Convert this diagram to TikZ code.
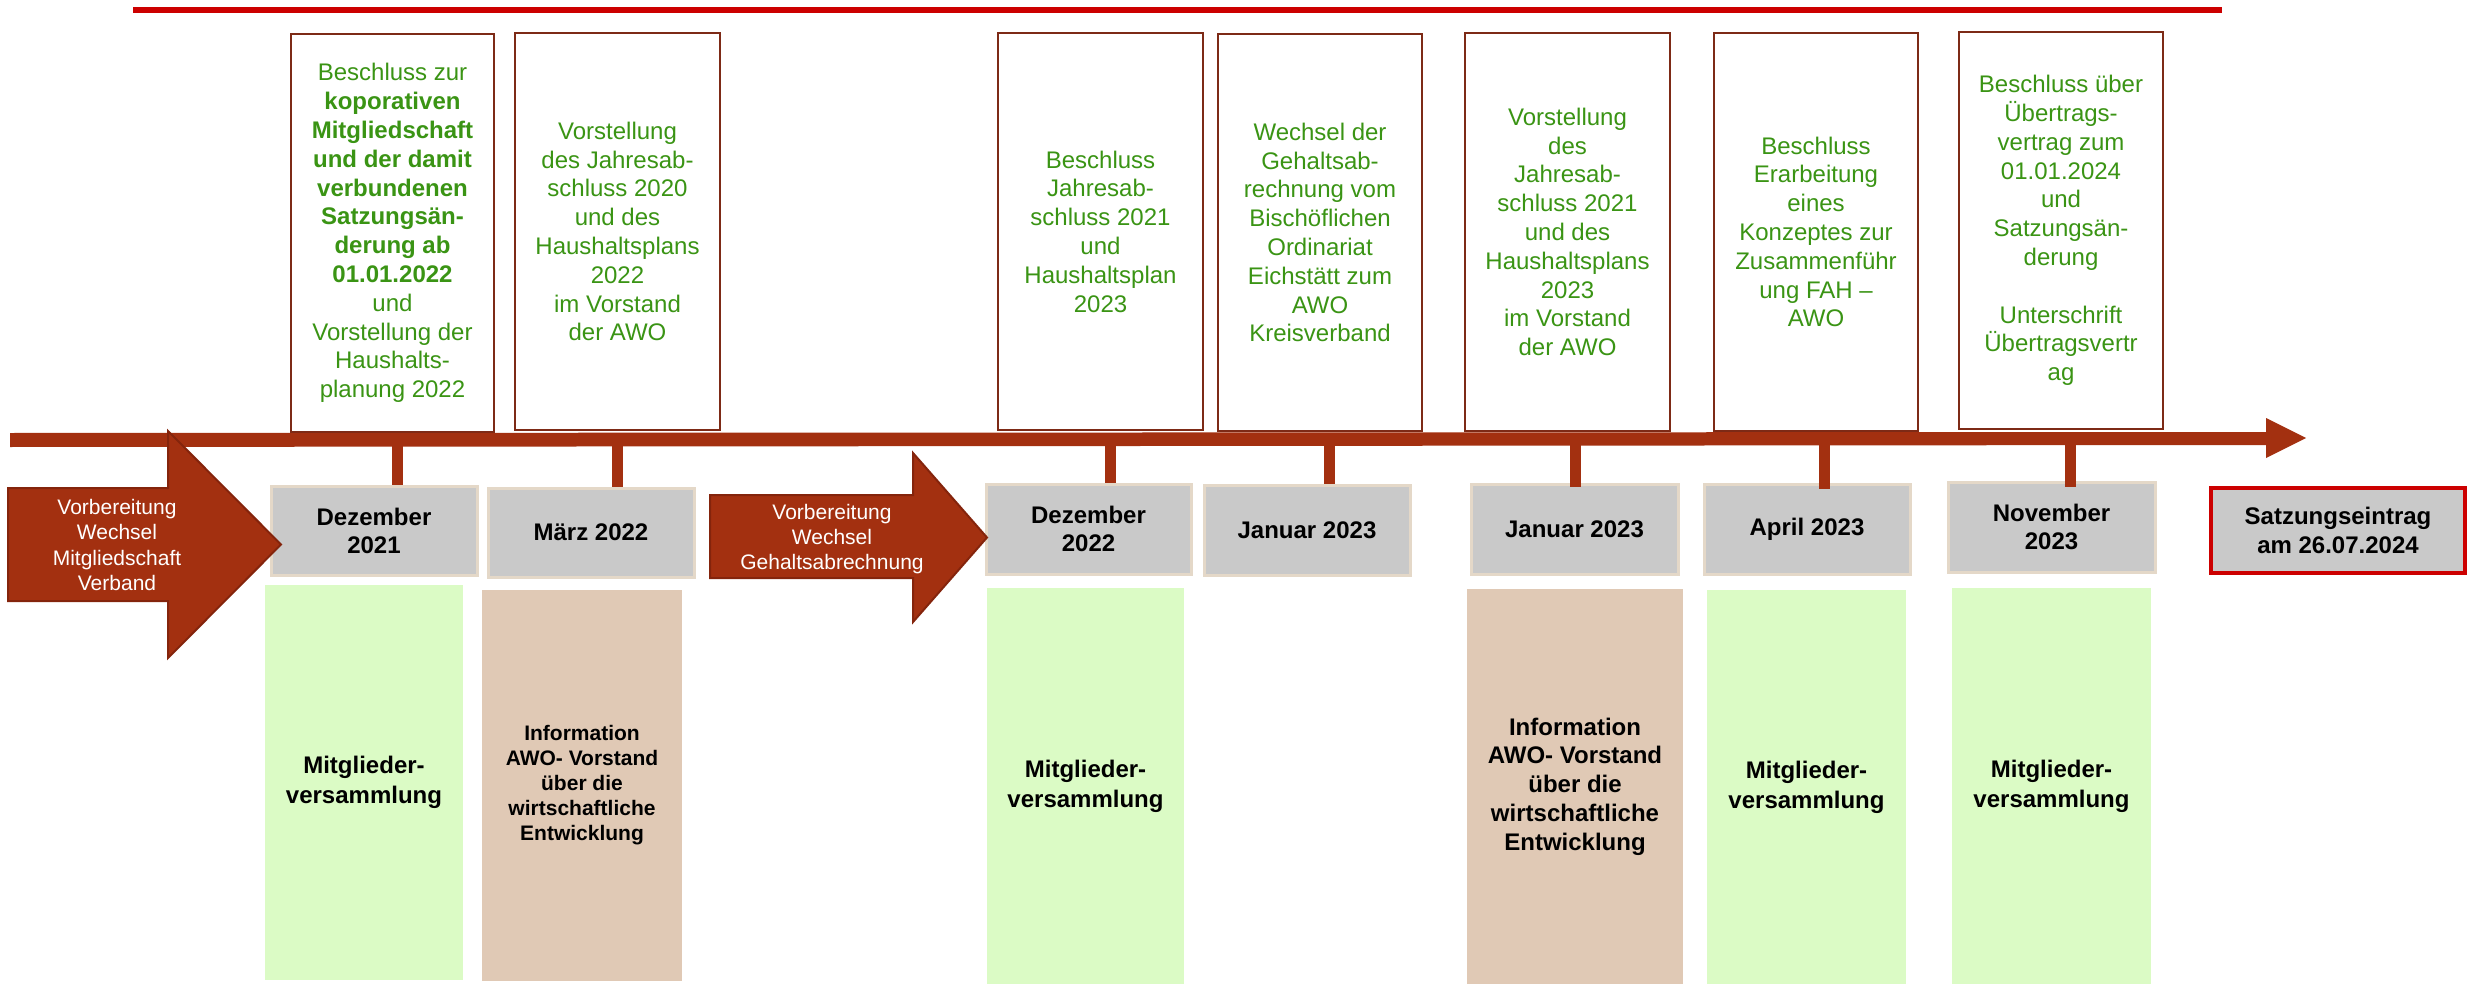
\documentclass[tikz,border=0pt]{standalone}
\usepackage{fontspec}
\setmainfont{Liberation Sans}
\definecolor{arrowred}{RGB}{163,48,16}
\definecolor{arrowedge}{RGB}{132,36,12}
\definecolor{boxedge}{RGB}{125,42,22}
\definecolor{txtgreen}{RGB}{58,148,20}
\definecolor{datefill}{RGB}{201,201,201}
\definecolor{dateedge}{RGB}{228,216,200}
\definecolor{mgreen}{RGB}{219,251,197}
\definecolor{mtan}{RGB}{224,201,181}
\definecolor{topred}{RGB}{204,0,0}
\begin{document}
\begin{tikzpicture}[x=0.5pt,y=-0.5pt,
  topbox/.style={draw=boxedge, line width=1.4pt, fill=white, text=txtgreen, align=center, inner sep=0pt, font=\fontsize{12}{14.4}\selectfont},
  datebox/.style={draw=dateedge, line width=1.5pt, fill=datefill, align=center, inner sep=0pt, font=\bfseries\fontsize{12}{14}\selectfont},
  endbox/.style={draw=topred, line width=2pt, fill=datefill, align=center, inner sep=0pt, font=\bfseries\fontsize{12}{14.75}\selectfont},
  greenbox/.style={fill=mgreen, align=center, inner sep=0pt, font=\bfseries\fontsize{12}{15}\selectfont},
  tanbox/.style={fill=mtan, align=center, inner sep=0pt, font=\bfseries\fontsize{10.5}{12.5}\selectfont},
  bigtan/.style={tanbox, font=\bfseries\fontsize{12}{14.4}\selectfont},
  bigarrow/.style={fill=arrowred, draw=arrowedge, line width=1pt, line join=miter},
  arrowtext/.style={text=white, align=center, inner sep=0pt, font=\fontsize{10.5}{12.6}\selectfont},
  tickline/.style={draw=arrowred, line width=5.5pt},
]
\useasboundingbox (0,0) rectangle (2478,984);

% top red line
\draw[topred, line width=3pt] (133,10) -- (2222,10);

% top boxes
\node[topbox, minimum width=101.5pt, minimum height=199pt] (T1) at (392.5,233)
  {Beschluss zur\\\textbf{koporativen}\\\textbf{Mitgliedschaft}\\\textbf{und der damit}\\\textbf{verbundenen}\\\textbf{Satzungsän-}\\\textbf{derung ab}\\\textbf{01.01.2022}\\und\\Vorstellung der\\Haushalts-\\planung 2022};
\node[topbox, minimum width=102.5pt, minimum height=198.5pt] (T2) at (617.5,231.5)
  {Vorstellung\\des Jahresab-\\schluss 2020\\und des\\Haushaltsplans\\2022\\im Vorstand\\der AWO};
\node[topbox, minimum width=102.5pt, minimum height=198.5pt] (T3) at (1100.5,231.5)
  {Beschluss\\Jahresab-\\schluss 2021\\und\\Haushaltsplan\\2023};
\node[topbox, minimum width=102pt, minimum height=198.5pt] (T4) at (1320,232.5)
  {Wechsel der\\Gehaltsab-\\rechnung vom\\Bischöflichen\\Ordinariat\\Eichstätt zum\\AWO\\Kreisverband};
\node[topbox, minimum width=102.5pt, minimum height=199pt] (T5) at (1567.5,232)
  {Vorstellung\\des\\Jahresab-\\schluss 2021\\und des\\Haushaltsplans\\2023\\im Vorstand\\der AWO};
\node[topbox, minimum width=102pt, minimum height=199pt] (T6) at (1816,232)
  {Beschluss\\Erarbeitung\\eines\\Konzeptes zur\\Zusammenführ\\ung FAH –\\AWO};
\node[topbox, minimum width=102pt, minimum height=198.5pt] (T7) at (2061,230.5)
  {Beschluss über\\Übertrags-\\vertrag zum\\01.01.2024\\und\\Satzungsän-\\derung\\\mbox{}\\Unterschrift\\Übertragsvertr\\ag};

% timeline
\fill[arrowred] (10,433) -- (2266,432) -- (2266,418) -- (2306,438) -- (2266,458) -- (2266,445) -- (10,447) -- cycle;

% date boxes
\node[datebox, minimum width=103pt, minimum height=44.5pt] (G1) at (374,530.5) {Dezember\\2021};
\node[datebox, minimum width=103pt, minimum height=44.5pt] (G2) at (591,532.5) {März 2022};
\node[datebox, minimum width=102.5pt, minimum height=45pt] (G3) at (1088.5,529) {Dezember\\2022};
\node[datebox, minimum width=103pt, minimum height=45pt] (G4) at (1307,530) {Januar 2023};
\node[datebox, minimum width=103.5pt, minimum height=45pt] (G5) at (1574.5,529) {Januar 2023};
\node[datebox, minimum width=103pt, minimum height=45pt] (G6) at (1807,529) {April 2023};
\node[datebox, minimum width=103.5pt, minimum height=45pt] (G7) at (2051.5,527) {November\\2023};
\node[endbox, minimum width=127pt, minimum height=42.5pt] (R) at (2338,530.5) {Satzungseintrag\\am 26.07.2024};

% ticks
\coordinate (k1) at (397,440);
\coordinate (k2) at (617.5,440);
\coordinate (k3) at (1110.5,440);
\coordinate (k4) at (1329,440);
\coordinate (k5) at (1575,440);
\coordinate (k6) at (1824,440);
\coordinate (k7) at (2070,440);
\draw[tickline] (k1) -- (k1 |- G1.north);
\draw[tickline] (k2) -- (k2 |- G2.north);
\draw[tickline] (k3) -- (k3 |- G3.north);
\draw[tickline] (k4) -- (k4 |- G4.north);
\draw[tickline] (k5) -- ([yshift=-2pt]k5 |- G5.north);
\draw[tickline] (k6) -- ([yshift=-3pt]k6 |- G6.north);
\draw[tickline] (k7) -- ([yshift=-3pt]k7 |- G7.north);

% bottom boxes
\node[greenbox, minimum width=99pt, minimum height=197.5pt] (B1) at (364,782.5) {Mitglieder-\\versammlung};
\node[tanbox, minimum width=100pt, minimum height=195.5pt] (B2) at (582,785.5) {Information\\AWO- Vorstand\\über die\\wirtschaftliche\\Entwicklung};
\node[greenbox, minimum width=98.5pt, minimum height=198pt] (B3) at (1085.5,786) {Mitglieder-\\versammlung};
\node[bigtan, minimum width=108pt, minimum height=197.5pt] (B4) at (1575,786.5) {Information\\AWO- Vorstand\\über die\\wirtschaftliche\\Entwicklung};
\node[greenbox, minimum width=99.5pt, minimum height=197pt] (B5) at (1806.5,787) {Mitglieder-\\versammlung};
\node[greenbox, minimum width=99.5pt, minimum height=198pt] (B6) at (2051.5,786) {Mitglieder-\\versammlung};

% big arrows
\draw[bigarrow] (8,488) -- (168,488) -- (168,431) -- (281,544.5) -- (168,658) -- (168,601) -- (8,601) -- cycle;
\node[arrowtext] (A1) at (117,545) {Vorbereitung\\Wechsel\\Mitgliedschaft\\Verband};
\draw[bigarrow] (710,495) -- (913,495) -- (913,453) -- (987,537.5) -- (913,622) -- (913,578) -- (710,578) -- cycle;
\node[arrowtext] (A2) at (832,539) {Vorbereitung\\Wechsel\\Gehaltsabrechnung};
\end{tikzpicture}
\end{document}
